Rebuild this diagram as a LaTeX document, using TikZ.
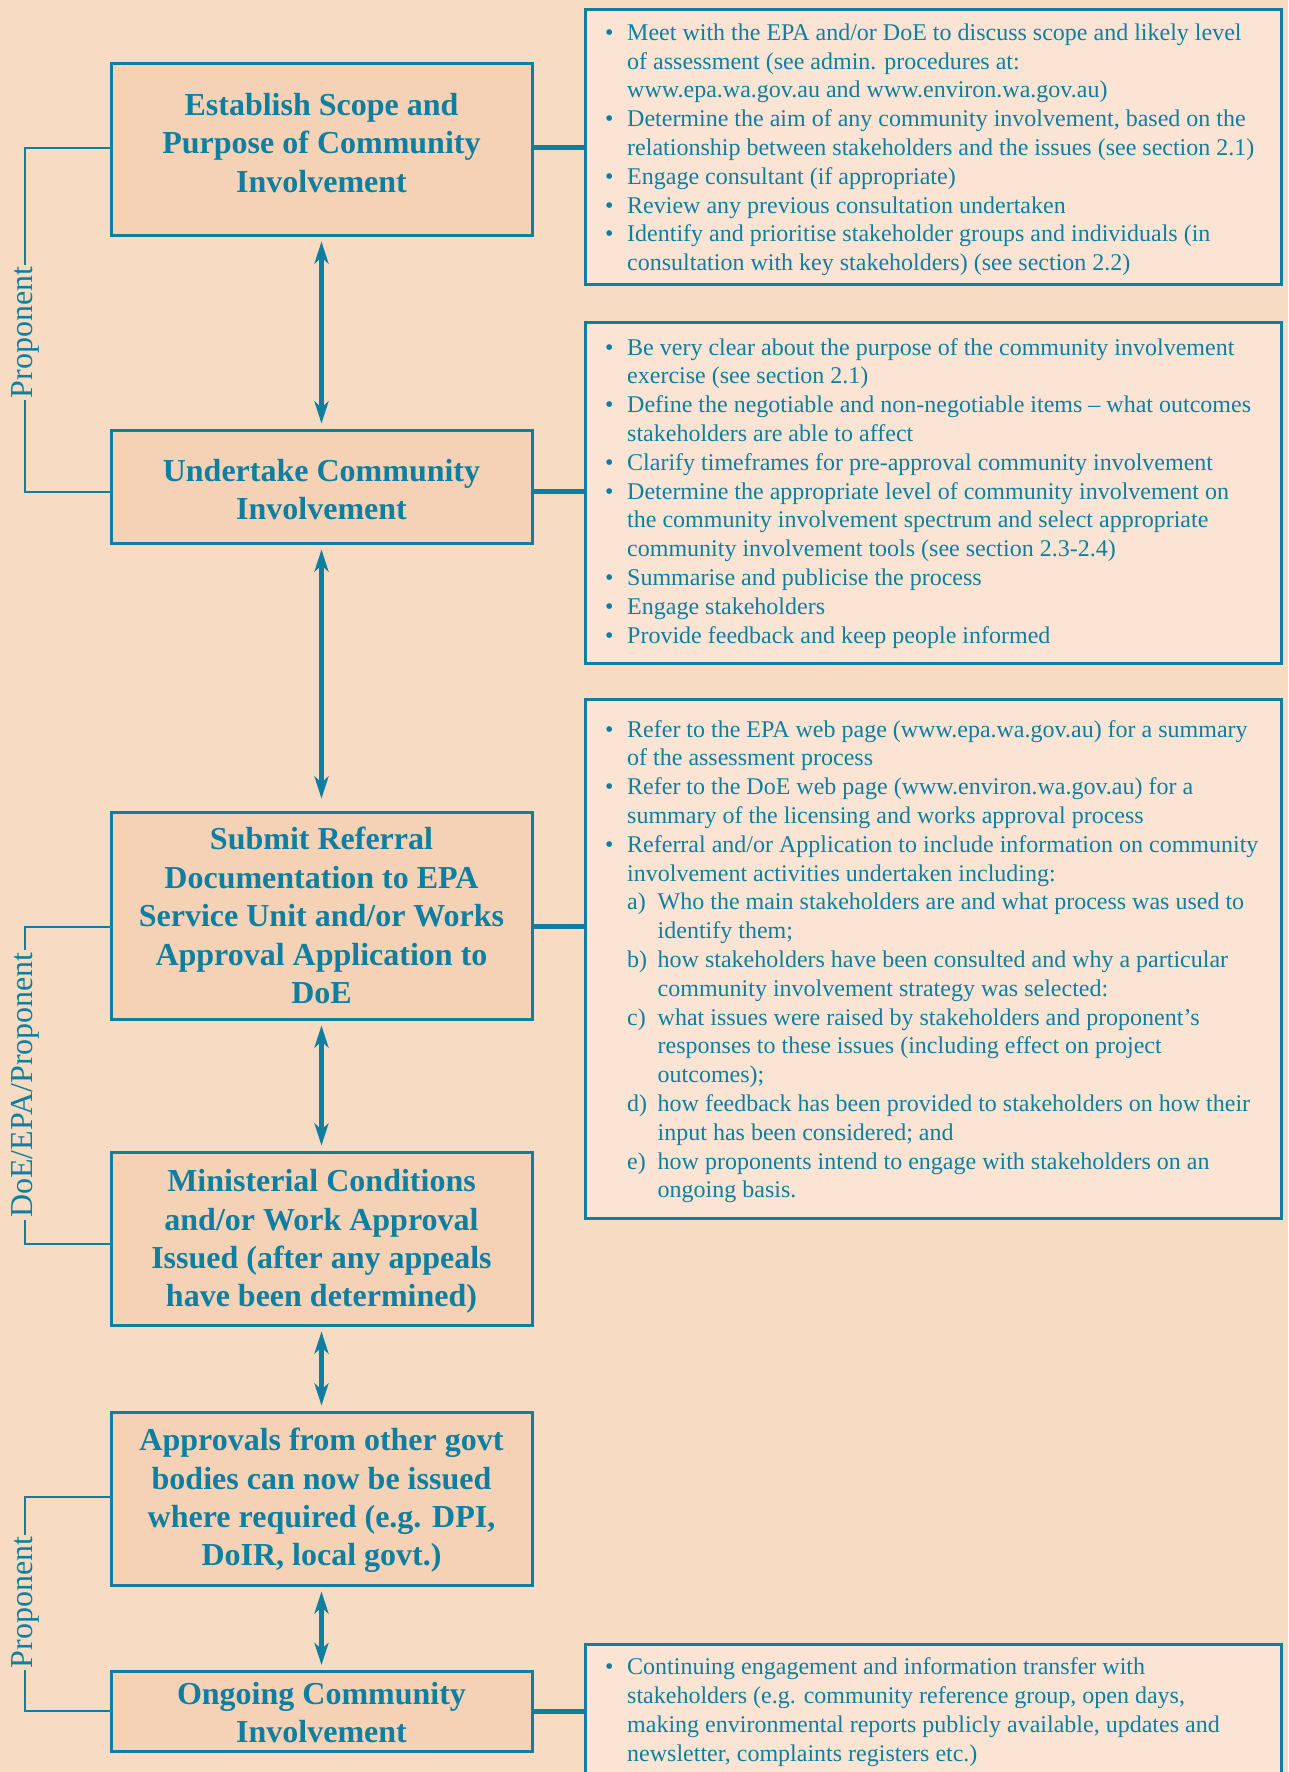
\documentclass[tikz,border=0pt]{standalone}
\usepackage{fontspec}
\setmainfont{Liberation Serif}
\usetikzlibrary{arrows.meta}
\definecolor{bgc}{HTML}{F7DCC3}
\definecolor{boxc}{HTML}{F5D2B5}
\definecolor{notec}{HTML}{FBE4D4}
\definecolor{tealc}{HTML}{0E7FA0}
\newcommand{\bltx}{\makebox[22pt][l]{\textbullet}}
\newcommand{\indtx}{\hspace*{22pt}}
\newcommand{\sublab}[1]{\hspace*{22pt}\makebox[30.5pt][l]{#1}}
\newcommand{\subind}{\hspace*{52.5pt}}
\begin{document}
\begin{tikzpicture}[x=1pt,y=-1pt,
  mainbox/.style={draw=tealc,fill=boxc,line width=3pt,minimum width=421pt,inner sep=0pt},
  titletx/.style={text=tealc,font=\fontsize{32}{38.4}\selectfont\bfseries,align=center,inner sep=0pt},
  notebox/.style={draw=tealc,fill=notec,line width=3pt,minimum width=696pt,inner sep=0pt},
  notetx/.style={text=tealc,font=\fontsize{24}{28.8}\selectfont,align=left,inner sep=0pt,anchor=north west},
  conn/.style={draw=tealc,line width=5pt},
  brk/.style={draw=tealc,line width=2.5pt},
  sidetx/.style={text=tealc,fill=bgc,font=\fontsize{32}{38.4}\selectfont,rotate=90,inner sep=2pt},
  arr/.style={draw=tealc,line width=4.5pt,{Stealth[length=22pt,width=14pt,inset=6pt]}-{Stealth[length=22pt,width=14pt,inset=6pt]},shorten >=5pt,shorten <=5pt}
]
\fill[bgc] (0,0) rectangle (1288,1772);
\useasboundingbox (0,0) rectangle (1288,1772);

% main boxes
\node[mainbox,minimum height=172pt] (b1) at (321.5,149) {};
\node[mainbox,minimum height=113pt] (b2) at (321.5,486.5) {};
\node[mainbox,minimum height=207pt] (b3) at (321.5,915.5) {};
\node[mainbox,minimum height=173pt] (b4) at (321.5,1238.5) {};
\node[mainbox,minimum height=173pt] (b5) at (321.5,1498.5) {};
\node[mainbox,minimum height=80pt] (b6) at (321.5,1711.5) {};
\node[titletx] (t1) at (321.5,143) {Establish Scope and\\Purpose of Community\\Involvement};
\node[titletx] (t2) at (321.5,489.5) {Undertake Community\\Involvement};
\node[titletx] (t3) at (321.5,915.5) {Submit Referral\\Documentation to EPA\\Service Unit and/or Works\\Approval Application to\\DoE};
\node[titletx] (t4) at (321.5,1241.5) {Ministerial Conditions\\and/or Work Approval\\Issued (after any appeals\\have been determined)};
\node[titletx] (t5) at (321.5,1500.5) {Approvals from other govt\\bodies can now be issued\\where required (e.g. DPI,\\DoIR, local govt.)};
\node[titletx] (t6) at (321.5,1712.5) {Ongoing Community\\Involvement};

% note boxes
\node[notebox,minimum height=275pt] (r1) at (933,146.5) {};
\node[notebox,minimum height=341pt] (r2) at (933,492.5) {};
\node[notebox,minimum height=519pt] (r3) at (933,958.5) {};
\node[notebox,minimum height=160pt] (r4) at (933,1724) {};

\node[notetx] (n1) at (605,23.5) {%
\bltx Meet with the EPA and/or DoE to discuss scope and likely level\\
\indtx of assessment (see admin. procedures at:\\
\indtx www.epa.wa.gov.au and www.environ.wa.gov.au)\\
\bltx Determine the aim of any community involvement, based on the\\
\indtx relationship between stakeholders and the issues (see section 2.1)\\
\bltx Engage consultant (if appropriate)\\
\bltx Review any previous consultation undertaken\\
\bltx Identify and prioritise stakeholder groups and individuals (in\\
\indtx consultation with key stakeholders) (see section 2.2)};

\node[notetx] (n2) at (605,338) {%
\bltx Be very clear about the purpose of the community involvement\\
\indtx exercise (see section 2.1)\\
\bltx Define the negotiable and non-negotiable items – what outcomes\\
\indtx stakeholders are able to affect\\
\bltx Clarify timeframes for pre-approval community involvement\\
\bltx Determine the appropriate level of community involvement on\\
\indtx the community involvement spectrum and select appropriate\\
\indtx community involvement tools (see section 2.3-2.4)\\
\bltx Summarise and publicise the process\\
\bltx Engage stakeholders\\
\bltx Provide feedback and keep people informed};

\node[notetx] (n3) at (605,720) {%
\bltx Refer to the EPA web page (www.epa.wa.gov.au) for a summary\\
\indtx of the assessment process\\
\bltx Refer to the DoE web page (www.environ.wa.gov.au) for a\\
\indtx summary of the licensing and works approval process\\
\bltx Referral and/or Application to include information on community\\
\indtx involvement activities undertaken including:\\
\sublab{a)}Who the main stakeholders are and what process was used to\\
\subind identify them;\\
\sublab{b)}how stakeholders have been consulted and why a particular\\
\subind community involvement strategy was selected:\\
\sublab{c)}what issues were raised by stakeholders and proponent’s\\
\subind responses to these issues (including effect on project\\
\subind outcomes);\\
\sublab{d)}how feedback has been provided to stakeholders on how their\\
\subind input has been considered; and\\
\sublab{e)}how proponents intend to engage with stakeholders on an\\
\subind ongoing basis.};

\node[notetx] (n4) at (605,1657.5) {%
\bltx Continuing engagement and information transfer with\\
\indtx stakeholders (e.g. community reference group, open days,\\
\indtx making environmental reports publicly available, updates and\\
\indtx newsletter, complaints registers etc.)};

% connectors to notes
\coordinate (c1) at (0,147);
\coordinate (c2) at (0,491);
\coordinate (c3) at (0,926);
\coordinate (c6) at (0,1711);
\draw[conn] (b1.east |- c1) -- (r1.west |- c1);
\draw[conn] (b2.east |- c2) -- (r2.west |- c2);
\draw[conn] (b3.east |- c3) -- (r3.west |- c3);
\draw[conn] (b6.east |- c6) -- (r4.west |- c6);

% vertical arrows
\draw[arr] (b1.south) -- (b2.north);
\draw[arr,shorten >=12pt] (b2.south) -- (b3.north);
\draw[arr] (b3.south) -- (b4.north);
\draw[arr] (b4.south) -- (b5.north);
\draw[arr] (b5.south) -- (b6.north);

% side brackets
\coordinate (p1a) at (25,148);
\coordinate (p1b) at (25,492);
\coordinate (p2a) at (25,927);
\coordinate (p2b) at (25,1244);
\coordinate (p3a) at (25,1497);
\coordinate (p3b) at (25,1711);
\draw[brk] (b1.west |- p1a) -- (p1a) -- (p1b) -- (b2.west |- p1b);
\draw[brk] (b3.west |- p2a) -- (p2a) -- (p2b) -- (b4.west |- p2b);
\draw[brk] (b5.west |- p3a) -- (p3a) -- (p3b) -- (b6.west |- p3b);
\node[sidetx] (l1) at (25,332.5) {Proponent};
\node[sidetx] (l2) at (25,1085) {DoE/EPA/Proponent};
\node[sidetx] (l3) at (25,1602.5) {Proponent};
\end{tikzpicture}
\end{document}
